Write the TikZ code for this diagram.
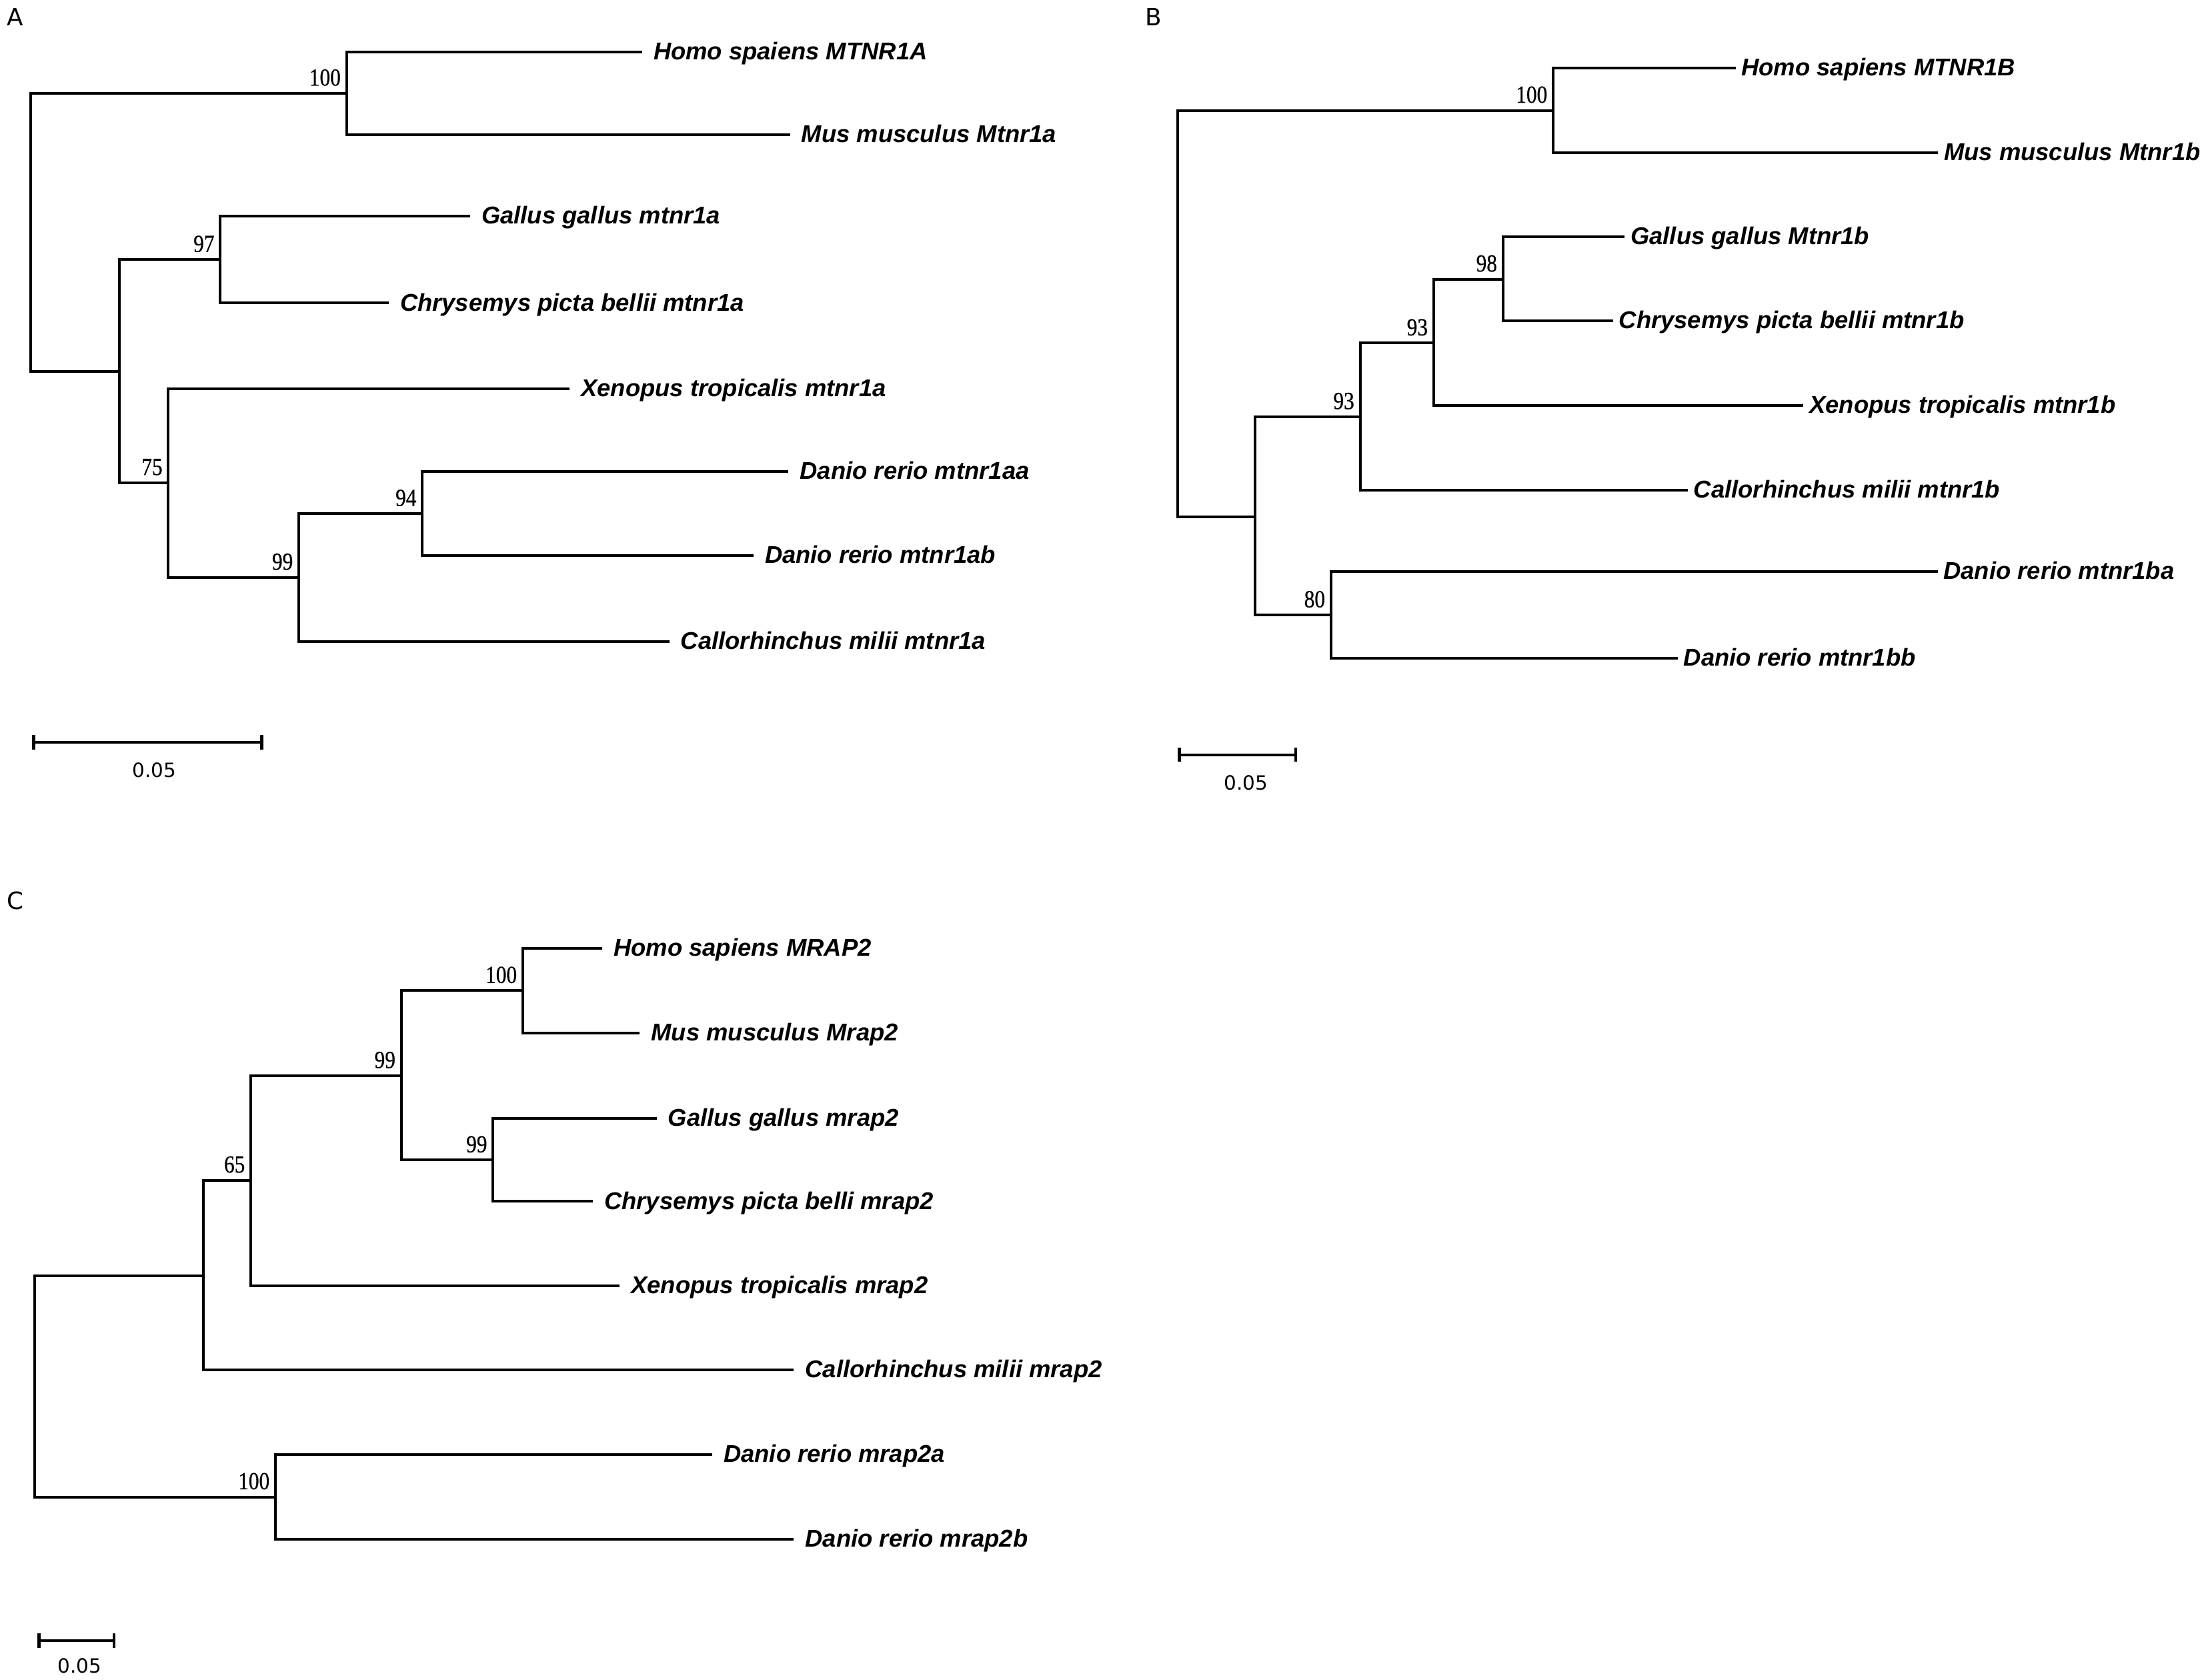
\documentclass[tikz,border=0pt]{standalone}
\usepackage{fontspec}
\setmainfont{Liberation Sans}
\newfontfamily\leaffont{Liberation Sans}
\newfontfamily\bsfont[FakeStretch=0.85,FakeBold=0.6]{Liberation Serif}
\newfontfamily\panelfont{DejaVu Sans}
\usetikzlibrary{arrows.meta}
\begin{document}
\begin{tikzpicture}[x=1pt,y=-1pt,
  br/.style={line width=1.9pt},
  leafbase/.style={anchor=west, inner ysep=0pt, text height=11pt, text depth=0pt,
    font={\leaffont\bfseries\itshape\fontsize{17.3pt}{19pt}\selectfont}},
  leafA/.style={leafbase, inner xsep=8pt},
  leafB/.style={leafbase, inner xsep=4pt},
  leafC/.style={leafbase, inner xsep=8pt},
  bs/.style={anchor=base east, inner sep=0pt, font={\bsfont\fontsize{17.5pt}{18pt}\selectfont}},
  scl/.style={inner sep=0pt, font={\panelfont\fontsize{14pt}{15pt}\selectfont}},
  panel/.style={inner sep=0pt, font={\panelfont\fontsize{17pt}{18pt}\selectfont}},
  sbar/.style={line width=1.9pt, {Bar[width=10pt,line width=2pt]}-{Bar[width=10pt,line width=2pt]}}
]
\useasboundingbox (0,0) rectangle (1568,1197);

% ---------------- Panel A ----------------
\node[panel] (labA) at (11,12) {A};
\coordinate (rA)  at (22,165.5);
\coordinate (nA1) at (247,66.5);
\coordinate (nA2) at (85,264.5);
\coordinate (nA3) at (157,185);
\coordinate (nA4) at (120,344);
\coordinate (nA5) at (213,411.5);
\coordinate (nA6) at (301,366);
\node[leafA] (homoA) at (457.6,37)  {Homo spaiens MTNR1A};
\node[leafA] (musA)  at (563,96)    {Mus musculus Mtnr1a};
\node[leafA] (gallA) at (335,154)   {Gallus gallus mtnr1a};
\node[leafA] (chrA)  at (277,216)   {Chrysemys picta bellii mtnr1a};
\node[leafA] (xenA)  at (406,277)   {Xenopus tropicalis mtnr1a};
\node[leafA] (daaA)  at (562,336)   {Danio rerio mtnr1aa};
\node[leafA] (dabA)  at (537,396)   {Danio rerio mtnr1ab};
\node[leafA] (calA)  at (477,457)   {Callorhinchus milii mtnr1a};
\draw[br] (rA) |- (nA1);
\draw[br] (rA) |- (nA2);
\draw[br] (nA1) |- (homoA);
\draw[br] (nA1) |- (musA);
\draw[br] (nA2) |- (nA3);
\draw[br] (nA2) |- (nA4);
\draw[br] (nA3) |- (gallA);
\draw[br] (nA3) |- (chrA);
\draw[br] (nA4) |- (xenA);
\draw[br] (nA4) |- (nA5);
\draw[br] (nA5) |- (nA6);
\draw[br] (nA5) |- (calA);
\draw[br] (nA6) |- (daaA);
\draw[br] (nA6) |- (dabA);
\node[bs] (bA1) at ([xshift=-4pt,yshift=5.5pt]nA1) {100};
\node[bs] (bA3) at ([xshift=-4pt,yshift=5.5pt]nA3) {97};
\node[bs] (bA4) at ([xshift=-4pt,yshift=5.5pt]nA4) {75};
\node[bs] (bA5) at ([xshift=-4pt,yshift=5.5pt]nA5) {99};
\node[bs] (bA6) at ([xshift=-4pt,yshift=5.5pt]nA6) {94};
\coordinate (sA1) at (23,529);
\coordinate (sA2) at (187.6,529);
\draw[sbar] (sA1) -- (sA2);
\node[scl] (sclA) at (110,549) {0.05};

% ---------------- Panel B ----------------
\node[panel] (labB) at (822,12) {B};
\coordinate (rB)  at (839.5,223.5);
\coordinate (nB1) at (1107,78.7);
\coordinate (nB2) at (894.3,368.2);
\coordinate (nB3) at (969.4,297);
\coordinate (nB4) at (1021.8,244.5);
\coordinate (nB5) at (1071.2,199);
\coordinate (nB6) at (948.6,438.3);
\node[leafB] (homoB) at (1237,48.5)   {Homo sapiens MTNR1B};
\node[leafB] (musB)  at (1381.4,108.8) {Mus musculus Mtnr1b};
\node[leafB] (gallB) at (1158,168.7)  {Gallus gallus Mtnr1b};
\node[leafB] (chrB)  at (1149.7,228.5) {Chrysemys picta bellii mtnr1b};
\node[leafB] (xenB)  at (1285.4,288.8) {Xenopus tropicalis mtnr1b};
\node[leafB] (calB)  at (1203,349.4)  {Callorhinchus milii mtnr1b};
\node[leafB] (baB)   at (1381,407.4)  {Danio rerio mtnr1ba};
\node[leafB] (bbB)   at (1195.8,469.2) {Danio rerio mtnr1bb};
\draw[br] (rB) |- (nB1);
\draw[br] (rB) |- (nB2);
\draw[br] (nB1) |- (homoB);
\draw[br] (nB1) |- (musB);
\draw[br] (nB2) |- (nB3);
\draw[br] (nB2) |- (nB6);
\draw[br] (nB3) |- (nB4);
\draw[br] (nB3) |- (calB);
\draw[br] (nB4) |- (nB5);
\draw[br] (nB4) |- (xenB);
\draw[br] (nB5) |- (gallB);
\draw[br] (nB5) |- (chrB);
\draw[br] (nB6) |- (baB);
\draw[br] (nB6) |- (bbB);
\node[bs] (bB1) at ([xshift=-4pt,yshift=5.5pt]nB1) {100};
\node[bs] (bB3) at ([xshift=-4pt,yshift=5.5pt]nB3) {93};
\node[bs] (bB4) at ([xshift=-4pt,yshift=5.5pt]nB4) {93};
\node[bs] (bB5) at ([xshift=-4pt,yshift=5.5pt]nB5) {98};
\node[bs] (bB6) at ([xshift=-4pt,yshift=5.5pt]nB6) {80};
\coordinate (sB1) at (839.5,538);
\coordinate (sB2) at (924.3,538);
\draw[sbar] (sB1) -- (sB2);
\node[scl] (sclB) at (888,558) {0.05};

% ---------------- Panel C ----------------
\node[panel] (labC) at (11,642) {C};
\coordinate (rC)  at (24.7,987.9);
\coordinate (nCa) at (144.8,909);
\coordinate (nCb) at (178.8,841.1);
\coordinate (nCc) at (286,766.6);
\coordinate (nCd) at (372.6,706);
\coordinate (nCe) at (351.4,826.7);
\coordinate (nCf) at (196.3,1066.8);
\node[leafC] (homoC) at (429.2,675.9) {Homo sapiens MRAP2};
\node[leafC] (musC)  at (456,736.1)   {Mus musculus Mrap2};
\node[leafC] (gallC) at (468,797.1)   {Gallus gallus mrap2};
\node[leafC] (chrC)  at (422.5,856.2) {Chrysemys picta belli mrap2};
\node[leafC] (xenC)  at (441.6,916.5) {Xenopus tropicalis mrap2};
\node[leafC] (calC)  at (565.8,976.3) {Callorhinchus milii mrap2};
\node[leafC] (daC)   at (507.6,1036.5) {Danio rerio mrap2a};
\node[leafC] (dbC)   at (565.8,1097.1) {Danio rerio mrap2b};
\draw[br] (rC) |- (nCa);
\draw[br] (rC) |- (nCf);
\draw[br] (nCa) |- (nCb);
\draw[br] (nCa) |- (calC);
\draw[br] (nCb) |- (nCc);
\draw[br] (nCb) |- (xenC);
\draw[br] (nCc) |- (nCd);
\draw[br] (nCc) |- (nCe);
\draw[br] (nCd) |- (homoC);
\draw[br] (nCd) |- (musC);
\draw[br] (nCe) |- (gallC);
\draw[br] (nCe) |- (chrC);
\draw[br] (nCf) |- (daC);
\draw[br] (nCf) |- (dbC);
\node[bs] (bCb) at ([xshift=-4pt,yshift=5.5pt]nCb) {65};
\node[bs] (bCc) at ([xshift=-4pt,yshift=5.5pt]nCc) {99};
\node[bs] (bCd) at ([xshift=-4pt,yshift=5.5pt]nCd) {100};
\node[bs] (bCe) at ([xshift=-4pt,yshift=5.5pt]nCe) {99};
\node[bs] (bCf) at ([xshift=-4pt,yshift=5.5pt]nCf) {100};
\coordinate (sC1) at (26.8,1169.2);
\coordinate (sC2) at (82.4,1169.2);
\draw[sbar] (sC1) -- (sC2);
\node[scl] (sclC) at (56.7,1187) {0.05};
\end{tikzpicture}
\end{document}
